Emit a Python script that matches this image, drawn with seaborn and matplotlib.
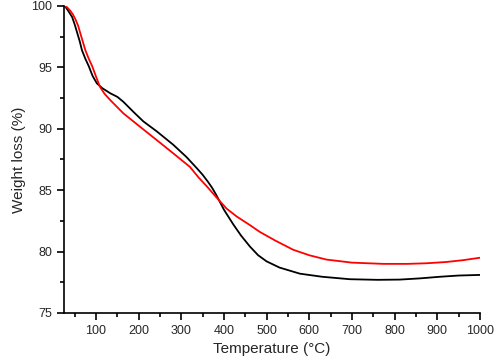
import numpy as np
import pandas as pd
import matplotlib
matplotlib.use("Agg")
import matplotlib.pyplot as plt
from matplotlib.ticker import MultipleLocator
import seaborn as sns

temp_black = [25, 28, 35, 44, 50, 56, 62, 67, 75, 83, 92, 102, 115, 133, 150, 164, 187, 211,
              242, 281, 312, 336, 350, 362, 372, 382, 391, 400, 411, 422, 440, 461, 480, 500, 530, 578, 630,
              695, 760, 812, 860, 906, 950, 1000]
weight_black = [100, 99.95, 99.6, 99.1, 98.5, 97.8, 97.1, 96.4, 95.7, 95.1, 94.3, 93.7, 93.3, 92.9, 92.6, 92.2, 91.4, 90.6,
                89.8, 88.7, 87.7, 86.8, 86.25, 85.7, 85.2, 84.6, 84.0, 83.4, 82.8, 82.2, 81.3, 80.4, 79.7, 79.2, 78.7, 78.2, 77.95,
                77.75, 77.7, 77.72, 77.82, 77.95, 78.05, 78.1]

temp_red = [25, 32, 40, 46, 52, 58, 63, 69, 75, 83, 91, 100, 109, 120, 133, 164, 203, 242, 281,
            320, 340, 360, 380, 406, 430, 461, 484, 520, 562, 600, 640, 700, 773, 830, 875,
            920, 960, 1000]
weight_red = [100, 99.9, 99.6, 99.3, 98.9, 98.4, 97.8, 97.1, 96.4, 95.7, 95.1, 94.25, 93.43, 92.85, 92.35, 91.26, 90.17, 89.09, 88.0,
              86.9, 86.05, 85.3, 84.5, 83.5, 82.85, 82.15, 81.6, 80.9, 80.15, 79.7, 79.35, 79.1, 79.0, 79.0, 79.05,
              79.15, 79.3, 79.5]

sns.set_style("ticks")
plt.rcParams['font.family'] = ['Liberation Sans', 'DejaVu Sans']

fig = plt.figure(figsize=(4.94, 3.61), dpi=100)
ax = fig.add_axes([0.1296, 0.133, 0.8421, 0.8504])

sns.lineplot(x=temp_black, y=weight_black, color="black", linewidth=1.3, ax=ax)
sns.lineplot(x=temp_red, y=weight_red, color="#ff0000", linewidth=1.3, ax=ax)

ax.set_xlim(25, 1000)
ax.set_ylim(75, 100)
ax.xaxis.set_major_locator(MultipleLocator(100))
ax.xaxis.set_minor_locator(MultipleLocator(50))
ax.yaxis.set_major_locator(MultipleLocator(5))
ax.yaxis.set_minor_locator(MultipleLocator(2.5))
ax.tick_params(which="major", direction="out", length=5, width=1.2, labelsize=9, color="black")
ax.tick_params(which="minor", direction="out", length=3, width=1.2, color="black")
for s in ["top", "right"]:
    ax.spines[s].set_visible(False)
for s in ["left", "bottom"]:
    ax.spines[s].set_linewidth(1.2)
    ax.spines[s].set_color("black")

ax.set_xlabel("Temperature (°C)", fontsize=11)
ax.set_ylabel("Weight loss (%)", fontsize=11)

fig.savefig("out.png", dpi=100)
